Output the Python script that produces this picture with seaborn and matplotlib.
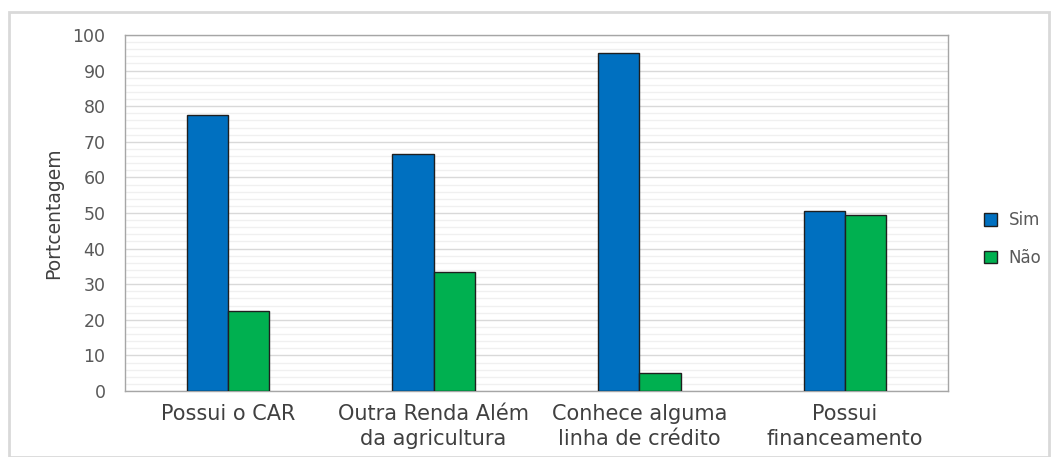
import matplotlib
matplotlib.use("Agg")
import matplotlib.pyplot as plt
import seaborn as sns
import pandas as pd
from matplotlib.patches import Rectangle
from matplotlib.ticker import MultipleLocator

categories = ["Possui o CAR", "Outra Renda Além\nda agricultura",
              "Conhece alguma\nlinha de crédito", "Possui\nfinanceamento"]
sim = [77.4, 66.7, 94.9, 50.7]
nao = [22.6, 33.3, 5.1, 49.3]
series = ["Sim", "Não"]
colors = ["#0070C0", "#00B050"]

df = pd.DataFrame({
    "cat": categories * 2,
    "val": sim + nao,
    "serie": [series[0]] * len(categories) + [series[1]] * len(categories),
})

sns.set_theme(style="white")
plt.rcParams["font.family"] = ["DejaVu Sans"]

fig = plt.figure(figsize=(10.54, 4.57), dpi=100)
ax = fig.add_axes([125 / 1054, 1 - 391 / 457, (948 - 125) / 1054, (391 - 35) / 457])

sns.barplot(data=df, x="cat", y="val", hue="serie", palette=colors, saturation=1,
            width=0.4, edgecolor="#1f1f1f", linewidth=1.0, ax=ax, zorder=3)

ax.set_ylim(0, 100)
ax.yaxis.set_major_locator(MultipleLocator(10))
ax.yaxis.set_minor_locator(MultipleLocator(2))
ax.grid(which="major", axis="y", color="#d9d9d9", linewidth=1.0, zorder=0)
ax.grid(which="minor", axis="y", color="#f0f0f0", linewidth=1.0, zorder=0)
ax.set_axisbelow(True)
for s in ax.spines.values():
    s.set_color("#a6a6a6")
    s.set_linewidth(1.0)
ax.tick_params(axis="both", which="both", length=0)
ax.tick_params(axis="y", labelsize=12.5, labelcolor="#595959", pad=14)
ax.tick_params(axis="x", labelsize=15, labelcolor="#404040", pad=9)
for lab in ax.get_xticklabels():
    lab.set_linespacing(1.35)
ax.set_xlabel("")
ax.set_ylabel("Portcentagem", fontsize=13.5, color="#404040", labelpad=7)

leg = ax.legend(loc="center left", bbox_to_anchor=(1.026, 0.427), frameon=False,
                fontsize=12, labelspacing=1.15, handlelength=0.75, handleheight=0.75,
                handletextpad=0.7)
for t in leg.get_texts():
    t.set_color("#595959")

fig.patches.append(Rectangle((9 / 1054, 0), 1040 / 1054, 1 - 12 / 457,
                             transform=fig.transFigure, fill=False,
                             edgecolor="#d9d9d9", linewidth=2))

fig.savefig("out.png", dpi=100)
